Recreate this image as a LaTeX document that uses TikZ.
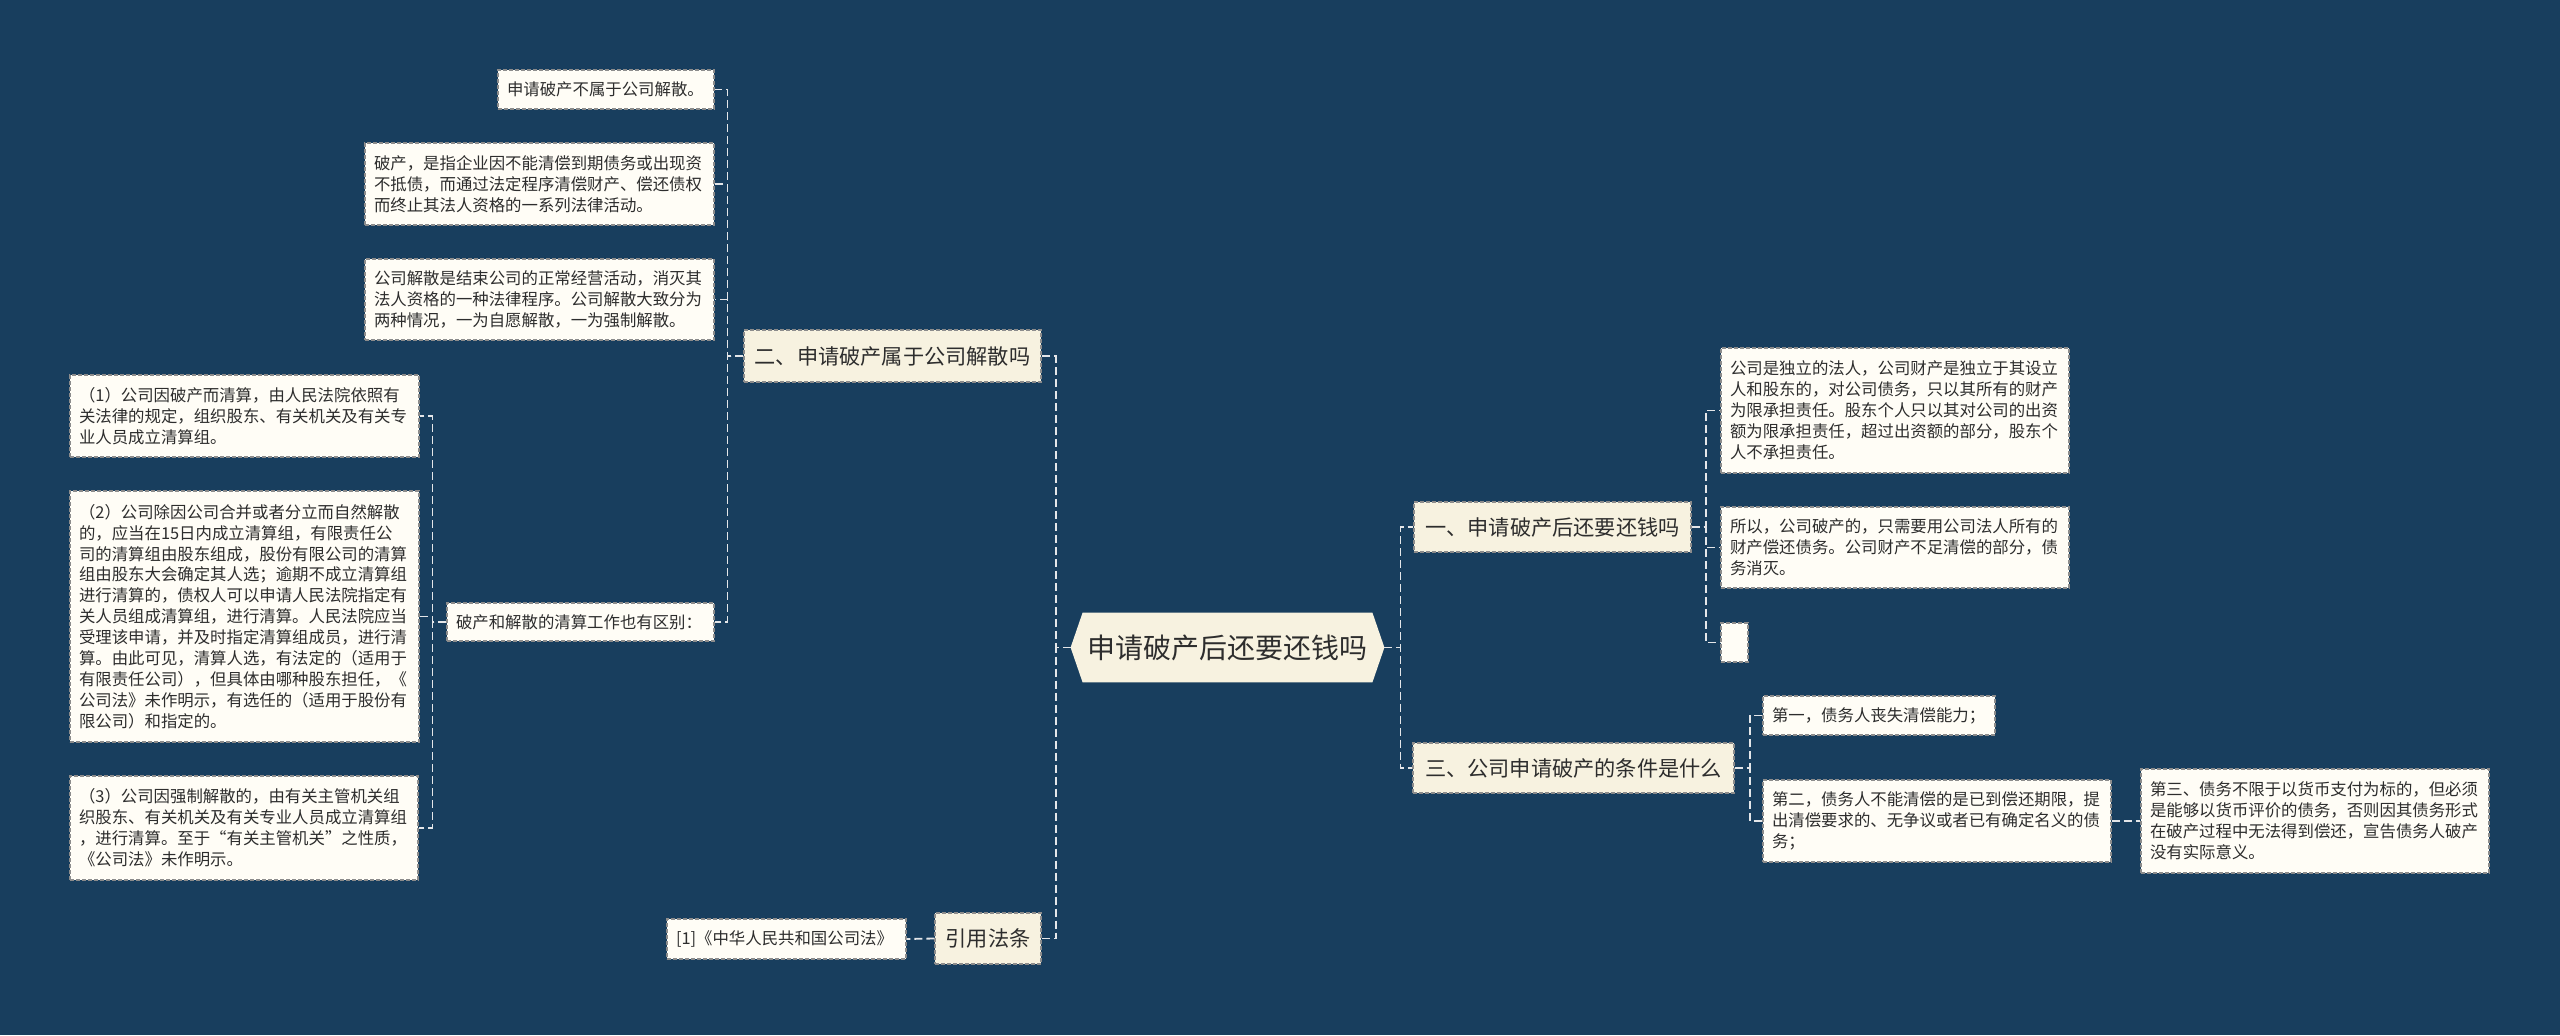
\documentclass[tikz,border=0pt]{standalone}
\usepackage{fontspec}
\setmainfont{Noto Sans CJK SC}
\usetikzlibrary{backgrounds}
\definecolor{bgcol}{RGB}{24,62,94}
\definecolor{leaffill}{RGB}{255,253,246}
\definecolor{branchfill}{RGB}{247,242,224}
\definecolor{edgegray}{RGB}{140,140,140}
\definecolor{linkcol}{RGB}{228,230,233}
\definecolor{txt}{RGB}{45,45,45}
\newcommand\leaffont{\fontsize{8.2pt}{10.45pt}\selectfont}
\newcommand\branchfont{\fontsize{10.6pt}{13pt}\selectfont}
\newcommand\rootfont{\fontsize{14pt}{17pt}\selectfont}
\tikzset{
  leaf/.style={draw=edgegray, line width=0.6pt, dash pattern=on 2pt off 1pt,
    fill=leaffill, text=txt, font=\leaffont, align=left,
    inner xsep=4.5pt, inner ysep=4pt, anchor=center},
  branch/.style={draw=edgegray, line width=0.6pt, dash pattern=on 2pt off 1pt,
    fill=branchfill, text=txt, font=\branchfont, align=center,
    inner sep=0pt, anchor=center},
  link/.style={draw=linkcol, line width=0.9pt, dash pattern=on 4pt off 2pt},
}
\begin{document}
\begin{tikzpicture}[x=0.5pt,y=-0.5pt]
\begin{pgfonlayer}{background}
\fill[bgcol] (0,0) rectangle (2560,1035);
\end{pgfonlayer}
\useasboundingbox (0,0) rectangle (2560,1035);

% root
\node[inner sep=0pt, minimum width=156.5pt, minimum height=34.5pt, font=\rootfont, text=txt] (root) at (1227.5,647.5) {申请破产后还要还钱吗};
\begin{pgfonlayer}{background}
\fill[branchfill] ([xshift=6pt]root.north west) -- ([xshift=-6pt]root.north east) -- (root.east)
  -- ([xshift=-6pt]root.south east) -- ([xshift=6pt]root.south west) -- (root.west) -- cycle;
\end{pgfonlayer}

% left branches
\node[branch, minimum width=148.5pt, minimum height=26pt] (two) at (892.5,356) {二、申请破产属于公司解散吗};
\node[branch, minimum width=53pt, minimum height=25.5pt] (law) at (988,938.5) {引用法条};

\node[leaf, text width=99pt, minimum height=19.5pt] (b1) at (606,89.5) {申请破产不属于公司解散。};
\node[leaf, text width=165.5pt, minimum height=41pt] (b2) at (539.5,184) {破产，是指企业因不能清偿到期债务或出现资\\不抵债，而通过法定程序清偿财产、偿还债权\\而终止其法人资格的一系列法律活动。};
\node[leaf, text width=165.5pt, minimum height=40.5pt] (b3) at (539.5,299.5) {公司解散是结束公司的正常经营活动，消灭其\\法人资格的一种法律程序。公司解散大致分为\\两种情况，一为自愿解散，一为强制解散。};
\node[leaf, text width=124.5pt, minimum height=19pt] (qs) at (580.5,622) {破产和解散的清算工作也有区别：};

\node[leaf, text width=165.5pt, minimum height=41pt] (q1) at (244.5,416) {（1）公司因破产而清算，由人民法院依照有\\关法律的规定，组织股东、有关机关及有关专\\业人员成立清算组。};
\node[leaf, text width=165.5pt, minimum height=125.5pt] (q2) at (244.5,616.5) {（2）公司除因公司合并或者分立而自然解散\\的，应当在15日内成立清算组，有限责任公\\司的清算组由股东组成，股份有限公司的清算\\组由股东大会确定其人选；逾期不成立清算组\\进行清算的，债权人可以申请人民法院指定有\\关人员组成清算组，进行清算。人民法院应当\\受理该申请，并及时指定清算组成员，进行清\\算。由此可见，清算人选，有法定的（适用于\\有限责任公司），但具体由哪种股东担任，《\\公司法》未作明示，有选任的（适用于股份有\\限公司）和指定的。};
\node[leaf, text width=165pt, minimum height=52pt] (q3) at (244,828) {（3）公司因强制解散的，由有关主管机关组\\织股东、有关机关及有关专业人员成立清算组\\，进行清算。至于“有关主管机关”之性质，\\《公司法》未作明示。};

\node[leaf, text width=110.5pt, minimum height=20pt] (lawref) at (786.5,939) {[1]《中华人民共和国公司法》};

% right branches
\node[branch, minimum width=138.5pt, minimum height=25pt] (one) at (1552.5,527) {一、申请破产后还要还钱吗};
\node[branch, minimum width=160.5pt, minimum height=25pt] (three) at (1573.5,768) {三、公司申请破产的条件是什么};

\node[leaf, text width=165pt, minimum height=62.5pt] (a1) at (1895,410.5) {公司是独立的法人，公司财产是独立于其设立\\人和股东的，对公司债务，只以其所有的财产\\为限承担责任。股东个人只以其对公司的出资\\额为限承担责任，超过出资额的部分，股东个\\人不承担责任。};
\node[leaf, text width=165pt, minimum height=40.5pt] (a2) at (1895,547.5) {所以，公司破产的，只需要用公司法人所有的\\财产偿还债务。公司财产不足清偿的部分，债\\务消灭。};
\node[leaf, inner sep=0pt, minimum width=13.5pt, minimum height=19.5pt] (a3) at (1734.5,642.5) {};

\node[leaf, text width=107pt, minimum height=19.5pt] (c1) at (1879,715.5) {第一，债务人丧失清偿能力；};
\node[leaf, text width=165pt, minimum height=41pt] (c2) at (1937,821) {第二，债务人不能清偿的是已到偿还期限，提\\出清偿要求的、无争议或者已有确定名义的债\\务；};
\node[leaf, text width=165pt, minimum height=52pt] (c3) at (2315,821) {第三、债务不限于以货币支付为标的，但必须\\是能够以货币评价的债务，否则因其债务形式\\在破产过程中无法得到偿还，宣告债务人破产\\没有实际意义。};

% connectors
\draw[link] (root.west) -- ++(-15,0) |- (two.east);
\draw[link] (root.west) -- ++(-15,0) |- (law.east);
\draw[link] (root.east) -- ++(16,0) |- (one.west);
\draw[link] (root.east) -- ++(16,0) |- (three.west);

\draw[link] (two.west) -- ++(-16,0) |- (b1.east);
\draw[link] (two.west) -- ++(-16,0) |- (b2.east);
\draw[link] (two.west) -- ++(-16,0) |- (b3.east);
\draw[link] (two.west) -- ++(-16,0) |- (qs.east);

\draw[link] (qs.west) -- ++(-14,0) |- (q1.east);
\draw[link] (qs.west) -- ++(-14,0) |- (q2.east);
\draw[link] (qs.west) -- ++(-14,0) |- (q3.east);

\draw[link] (law.west) -- (lawref.east);

\draw[link] (one.east) -- ++(14,0) |- (a1.west);
\draw[link] (one.east) -- ++(14,0) |- (a2.west);
\draw[link] (one.east) -- ++(14,0) |- (a3.west);

\draw[link] (three.east) -- ++(15,0) |- (c1.west);
\draw[link] (three.east) -- ++(15,0) |- (c2.west);
\draw[link] (c2.east) -- (c3.west);
\end{tikzpicture}
\end{document}
